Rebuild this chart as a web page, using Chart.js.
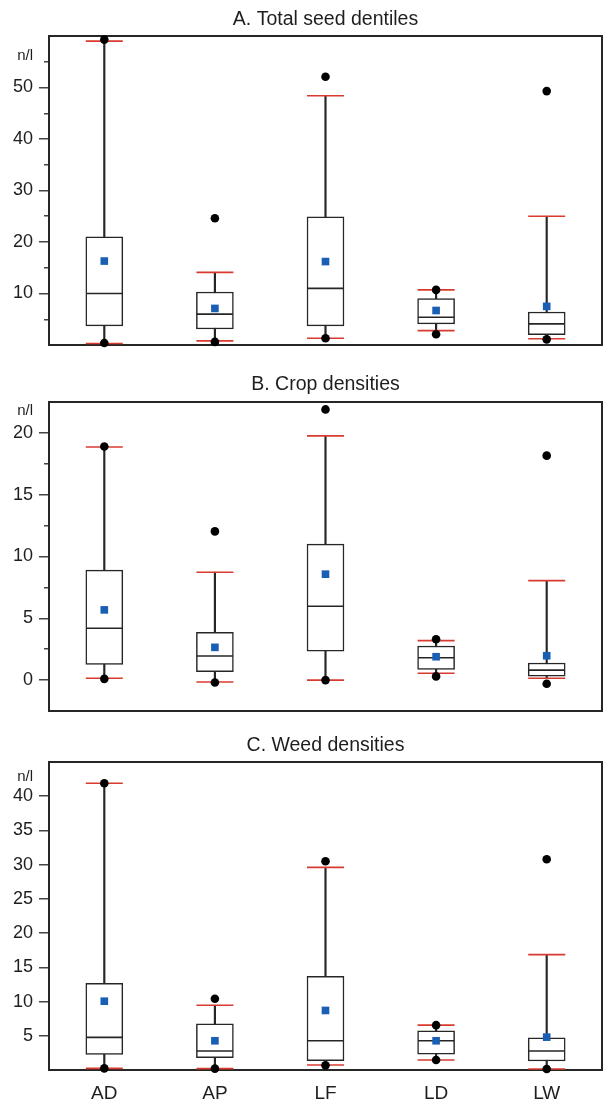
<!DOCTYPE html>
<html>
<head>
<meta charset="utf-8">
<script src="https://cdn.jsdelivr.net/npm/chart.js@4/dist/chart.umd.min.js"></script>
<style>
  body { margin: 0; background: #fff; }
  canvas { position: absolute; left: 0; }
</style>
</head>
<body>
<canvas id="chartA" width="609" height="360" style="top:0px"></canvas>
<canvas id="chartB" width="609" height="360" style="top:360px"></canvas>
<canvas id="chartC" width="609" height="384" style="top:720px"></canvas>
<script>
const sites = ["AD", "AP", "LF", "LD", "LW"];

// A. Total seed dentiles
const seedMin = [0.4, 0.6, 1.3, 2.1, 1.1];
const seedLow = [0.3, 0.8, 1.3, 2.8, 1.2];
const seedQ1 = [3.7, 3.1, 3.7, 4.1, 2.0];
const seedMedian = [10.0, 6.0, 11.0, 5.4, 4.1];
const seedQ3 = [21.0, 10.3, 24.9, 9.0, 6.4];
const seedHigh = [59.0, 14.1, 48.4, 10.7, 25.0];
const seedMax = [59.3, 24.6, 52.1, 10.7, 49.3];
const seedMean = [16.3, 7.1, 16.2, 6.7, 7.5];
const seedTicks = [10, 20, 30, 40, 50];
const seedMinorTicks = [5, 15, 25, 35, 45, 55];

// B. Crop densities
const cropMin = [0.1, -0.2, 0.0, 0.3, -0.3];
const cropLow = [0.15, -0.15, 0.0, 0.55, 0.15];
const cropQ1 = [1.27, 0.68, 2.35, 0.86, 0.32];
const cropMedian = [4.2, 1.95, 5.97, 1.81, 0.81];
const cropQ3 = [8.9, 3.86, 11.0, 2.76, 1.38];
const cropHigh = [18.86, 8.73, 19.76, 3.19, 8.05];
const cropMax = [18.9, 12.03, 21.9, 3.3, 18.16];
const cropMean = [5.68, 2.65, 8.57, 1.89, 1.97];
const cropTicks = [0, 5, 10, 15, 20];
const cropMinorTicks = [2.5, 7.5, 12.5, 17.5];

// C. Weed densities
const weedMin = [0.24, 0.2, 0.68, 1.46, 0.15];
const weedLow = [0.24, 0.2, 0.73, 1.46, 0.15];
const weedQ1 = [2.28, 1.8, 1.36, 2.33, 1.31];
const weedMedian = [4.76, 2.77, 4.27, 4.27, 2.77];
const weedQ3 = [12.67, 6.75, 13.7, 5.73, 4.7];
const weedHigh = [41.9, 9.47, 29.6, 6.55, 16.85];
const weedMax = [41.9, 10.4, 30.5, 6.55, 30.8];
const weedMean = [10.05, 4.27, 8.7, 4.27, 4.8];
const weedTicks = [5, 10, 15, 20, 25, 30, 35, 40];
const weedMinorTicks = [];

const ink = "#262626";
const red = "#d83a2f";
const blue = "#1a5fb4";
const fontFamily = "'Liberation Sans', Arial, sans-serif";

// stop label half-sizes from shrinking the plot area
function noPad(sc) {
  sc.paddingLeft = 0;
  sc.paddingRight = 0;
  sc.paddingTop = 0;
  sc.paddingBottom = 0;
}

function markers(data, style, radius, color, order) {
  return {
    type: "line",
    data: data,
    showLine: false,
    clip: false,
    pointStyle: style,
    pointRadius: radius,
    pointBorderWidth: style === "line" ? 1.6 : 0,
    borderColor: color,
    pointBorderColor: color,
    pointBackgroundColor: color,
    order: order,
  };
}

function drawPanel(id, title, s, axis) {
  const datasets = [
    // whisker stem, cap to cap
    {
      type: "bar",
      data: sites.map((_, i) => [s.low[i], s.high[i]]),
      backgroundColor: ink,
      barThickness: 1.5,
      grouped: false,
      order: 9,
    },
    // quartile box
    {
      type: "bar",
      data: sites.map((_, i) => [s.q1[i], s.q3[i]]),
      backgroundColor: "#ffffff",
      borderColor: ink,
      borderWidth: 1.5,
      borderSkipped: false,
      barThickness: 37,
      grouped: false,
      order: 8,
    },
    markers(s.median, "line", 18, ink, 7),
    markers(s.low, "line", 18.5, red, 6),
    markers(s.high, "line", 18.5, red, 5),
    markers(s.min, "circle", 4.3, "#000", 4),
    markers(s.max, "circle", 4.3, "#000", 3),
    markers(s.mean, "rect", 5.4, blue, 2),
  ];

  const frame = { display: true, color: ink, width: 2 };
  new Chart(document.getElementById(id), {
    type: "bar",
    data: { labels: sites, datasets: datasets },
    options: {
      responsive: false,
      animation: false,
      events: [],
      layout: {
        autoPadding: false,
        padding: { left: 0, right: 7, top: 0, bottom: axis.padBottom },
      },
      plugins: {
        legend: { display: false },
        tooltip: { enabled: false },
        title: {
          display: true,
          fullSize: false,
          text: title,
          color: "#1e1e1e",
          font: { family: fontFamily, size: 19.5, weight: "normal" },
          padding: axis.titlePad,
        },
      },
      scales: {
        x: {
          offset: true,
          grid: { display: false, drawTicks: false },
          border: frame,
          ticks: {
            display: axis.showX,
            color: "#1e1e1e",
            padding: 12,
            font: { family: fontFamily, size: 19 },
          },
          afterFit: (sc) => { sc.height = axis.xHeight; noPad(sc); },
        },
        xTop: {
          position: "top",
          offset: true,
          grid: { display: false, drawTicks: false },
          border: frame,
          ticks: { display: false },
          afterFit: (sc) => { sc.height = 0; noPad(sc); },
        },
        y: {
          position: "left",
          weight: 1,
          min: axis.min,
          max: axis.max,
          afterBuildTicks: (sc) => {
            sc.ticks = axis.ticks.concat([axis.unitAt]).map((v) => ({ value: v }));
          },
          grid: {
            drawOnChartArea: false,
            tickLength: 10,
            lineWidth: 1.5,
            tickColor: (c) => (c.tick && c.tick.value === axis.unitAt ? "rgba(0,0,0,0)" : "#444"),
          },
          border: frame,
          ticks: {
            autoSkip: false,
            padding: 6,
            color: "#1e1e1e",
            font: (c) => ({ family: fontFamily, size: c.tick && c.tick.value === axis.unitAt ? 15 : 18 }),
            callback: (v) => (v === axis.unitAt ? "n/l" : v),
          },
          afterFit: (sc) => { sc.width = 49; noPad(sc); },
        },
        yMinor: {
          position: "left",
          weight: 0,
          min: axis.min,
          max: axis.max,
          afterBuildTicks: (sc) => {
            sc.ticks = axis.minor.map((v) => ({ value: v }));
          },
          grid: { drawOnChartArea: false, tickLength: 5, lineWidth: 1.5, tickColor: "#444" },
          border: { display: false },
          ticks: { display: false },
          afterFit: (sc) => { sc.width = 0; noPad(sc); },
        },
        yRight: {
          position: "right",
          min: axis.min,
          max: axis.max,
          grid: { display: false, drawTicks: false },
          border: frame,
          ticks: { display: false },
          afterFit: (sc) => { sc.width = 0; noPad(sc); },
        },
      },
    },
  });
}

drawPanel("chartA", "A. Total seed dentiles",
  { min: seedMin, low: seedLow, q1: seedQ1, median: seedMedian, q3: seedQ3, high: seedHigh, max: seedMax, mean: seedMean },
  { min: 0, max: 60, ticks: seedTicks, minor: seedMinorTicks, unitAt: 56.2,
    titlePad: { top: 8.3, bottom: 4.3 }, padBottom: 15, xHeight: 0, showX: false });

drawPanel("chartB", "B. Crop densities",
  { min: cropMin, low: cropLow, q1: cropQ1, median: cropMedian, q3: cropQ3, high: cropHigh, max: cropMax, mean: cropMean },
  { min: -2.5, max: 22.5, ticks: cropTicks, minor: cropMinorTicks, unitAt: 21.8,
    titlePad: { top: 13.3, bottom: 5.3 }, padBottom: 9, xHeight: 0, showX: false });

drawPanel("chartC", "C. Weed densities",
  { min: weedMin, low: weedLow, q1: weedQ1, median: weedMedian, q3: weedQ3, high: weedHigh, max: weedMax, mean: weedMean },
  { min: 0, max: 45, ticks: weedTicks, minor: weedMinorTicks, unitAt: 42.8,
    titlePad: { top: 14.3, bottom: 4.3 }, padBottom: 0, xHeight: 34, showX: true });
</script>
</body>
</html>
